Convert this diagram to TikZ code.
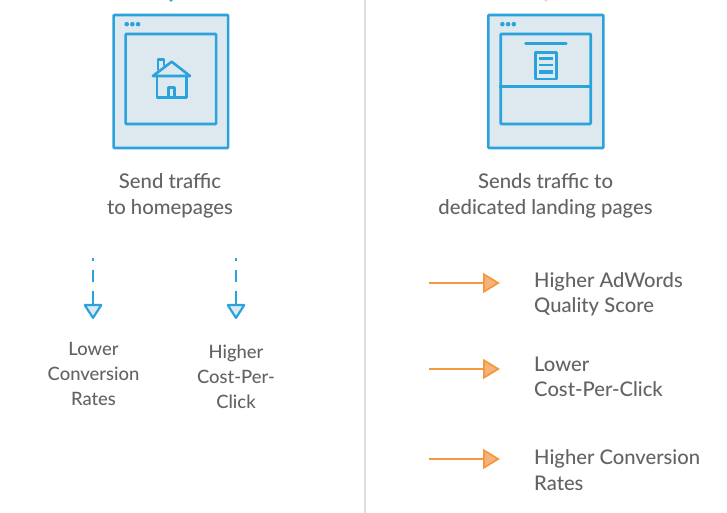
\documentclass[tikz,border=0pt]{standalone}
\usepackage{fontspec}
\setmainfont{Lato Medium}
\usetikzlibrary{arrows.meta, positioning}
\definecolor{winblue}{HTML}{2AA3DC}
\definecolor{winfill}{HTML}{DDE9EF}
\definecolor{warmorange}{HTML}{F59A3C}
\definecolor{warmfill}{HTML}{F6B27C}
\definecolor{textgrey}{HTML}{636363}
\definecolor{rulegrey}{HTML}{D9DFE1}
\tikzset{
  winbox/.style={rectangle,draw=winblue,fill=winfill,line width=2.6pt,inner sep=0pt,
    rounded corners=0.8pt},
  icon/.style={draw=winblue,line width=2.6pt,line join=round,line cap=round},
  bigtext/.style={align=center,text=textgrey,inner sep=0pt,font=\fontsize{20.3}{26}\selectfont},
  listtext/.style={align=left,text=textgrey,inner sep=0pt,anchor=west,font=\fontsize{20.2}{25.5}\selectfont},
  downtext/.style={align=center,text=textgrey,inner sep=0pt,font=\fontsize{18.4}{25}\selectfont},
  downarrow/.style={-{Triangle[length=16pt,width=20pt,fill=winfill,line width=2.2pt,round]},
    draw=winblue,line width=2.9pt,dash pattern=on 2.5pt off 9pt on 12pt off 9.5pt on 30pt},
  rightarrow/.style={-{Triangle[length=17pt,width=20pt,fill=warmfill,line width=1.8pt]},
    draw=warmorange,line width=2.6pt},
}
\begin{document}
\begin{tikzpicture}[x=1pt,y=-1pt]
  \useasboundingbox (0,0) rectangle (727,513);
  % page divider
  \coordinate (ruletop) at (365,0);
  \coordinate (rulebot) at (365,513);
  \draw[rulegrey,line width=1.8pt] (ruletop) -- (rulebot);
  % cut off ends above the windows
  \fill[winblue] (171,0) circle (1.8);
  \fill[warmfill!60] (546,0) circle (1.8);
  % browser windows
  \node[winbox,minimum width=114.5pt,minimum height=133pt] (homewin) at (170.8,81.5) {};
  \node[winbox,minimum width=90.5pt,minimum height=90pt] (homepage) at (170.8,79) {};
  \node[winbox,minimum width=115pt,minimum height=133pt] (landwin) at (545.8,81.5) {};
  \node[winbox,minimum width=90pt,minimum height=90pt] (landpage) at (545.7,79) {};
  \foreach \x in {126.7,132.4,138.1,502.4,508.1,513.8} {
    \fill[winblue] (\x,24.2) circle (2.3);
  }
  % house
  \draw[icon] (152.9,76) -- (171.7,61.7) -- (190,76) -- cycle;
  \draw[icon] (156.9,76) -- (156.9,97.3) -- (186.7,97.3) -- (186.7,76);
  \draw[icon] (158,69.5) -- (158,59.6) -- (164,59.6) -- (164,65);
  \draw[icon] (168.2,97.3) -- (168.2,87.4) -- (174.7,87.4) -- (174.7,97.3);
  % landing page
  \draw[icon,line cap=butt] (landpage.west |- 0,86.7) -- (landpage.east |- 0,86.7);
  \draw[icon] (525.5,43.3) -- (566.3,43.3);
  \draw[icon] (535.5,52.7) rectangle (556.2,79);
  \foreach \y/\w in {58.7/2.4, 65.3/2.4, 72/4.8} {
    \draw[winblue,line width=\w pt] (539,\y) -- (553,\y);
  }
  % captions
  \node[bigtext] (sendhome) at (170,195.5) {Send traffic\\to homepages};
  \node[bigtext] (sendland) at (545.5,195.5) {Sends traffic to\\dedicated landing pages};
  % left column
  \foreach \name/\x in {lower/93, higher/236} {
    \coordinate (\name from) at (\x,258);
    \coordinate (\name to) at (\x,319);
    \draw[downarrow] (\name from) -- (\name to);
  }
  \node[downtext] (lowertext) at (93.5,374) {Lower\\Conversion\\Rates};
  \node[downtext] (highertext) at (236,377) {Higher\\Cost-Per-\\Click};
  % right column
  \foreach \name/\y in {score/283, click/369, rates/459} {
    \coordinate (\name from) at (429,\y);
    \coordinate (\name to) at (500,\y);
    \draw[rightarrow] (\name from) -- (\name to);
  }
  \node[listtext] (scoretext) at (534,294.5) {Higher AdWords\\Quality Score};
  \node[listtext] (clicktext) at (534,377) {Lower\\Cost-Per-Click};
  \node[listtext] (ratestext) at (534,470) {Higher Conversion\\Rates};
\end{tikzpicture}
\end{document}
